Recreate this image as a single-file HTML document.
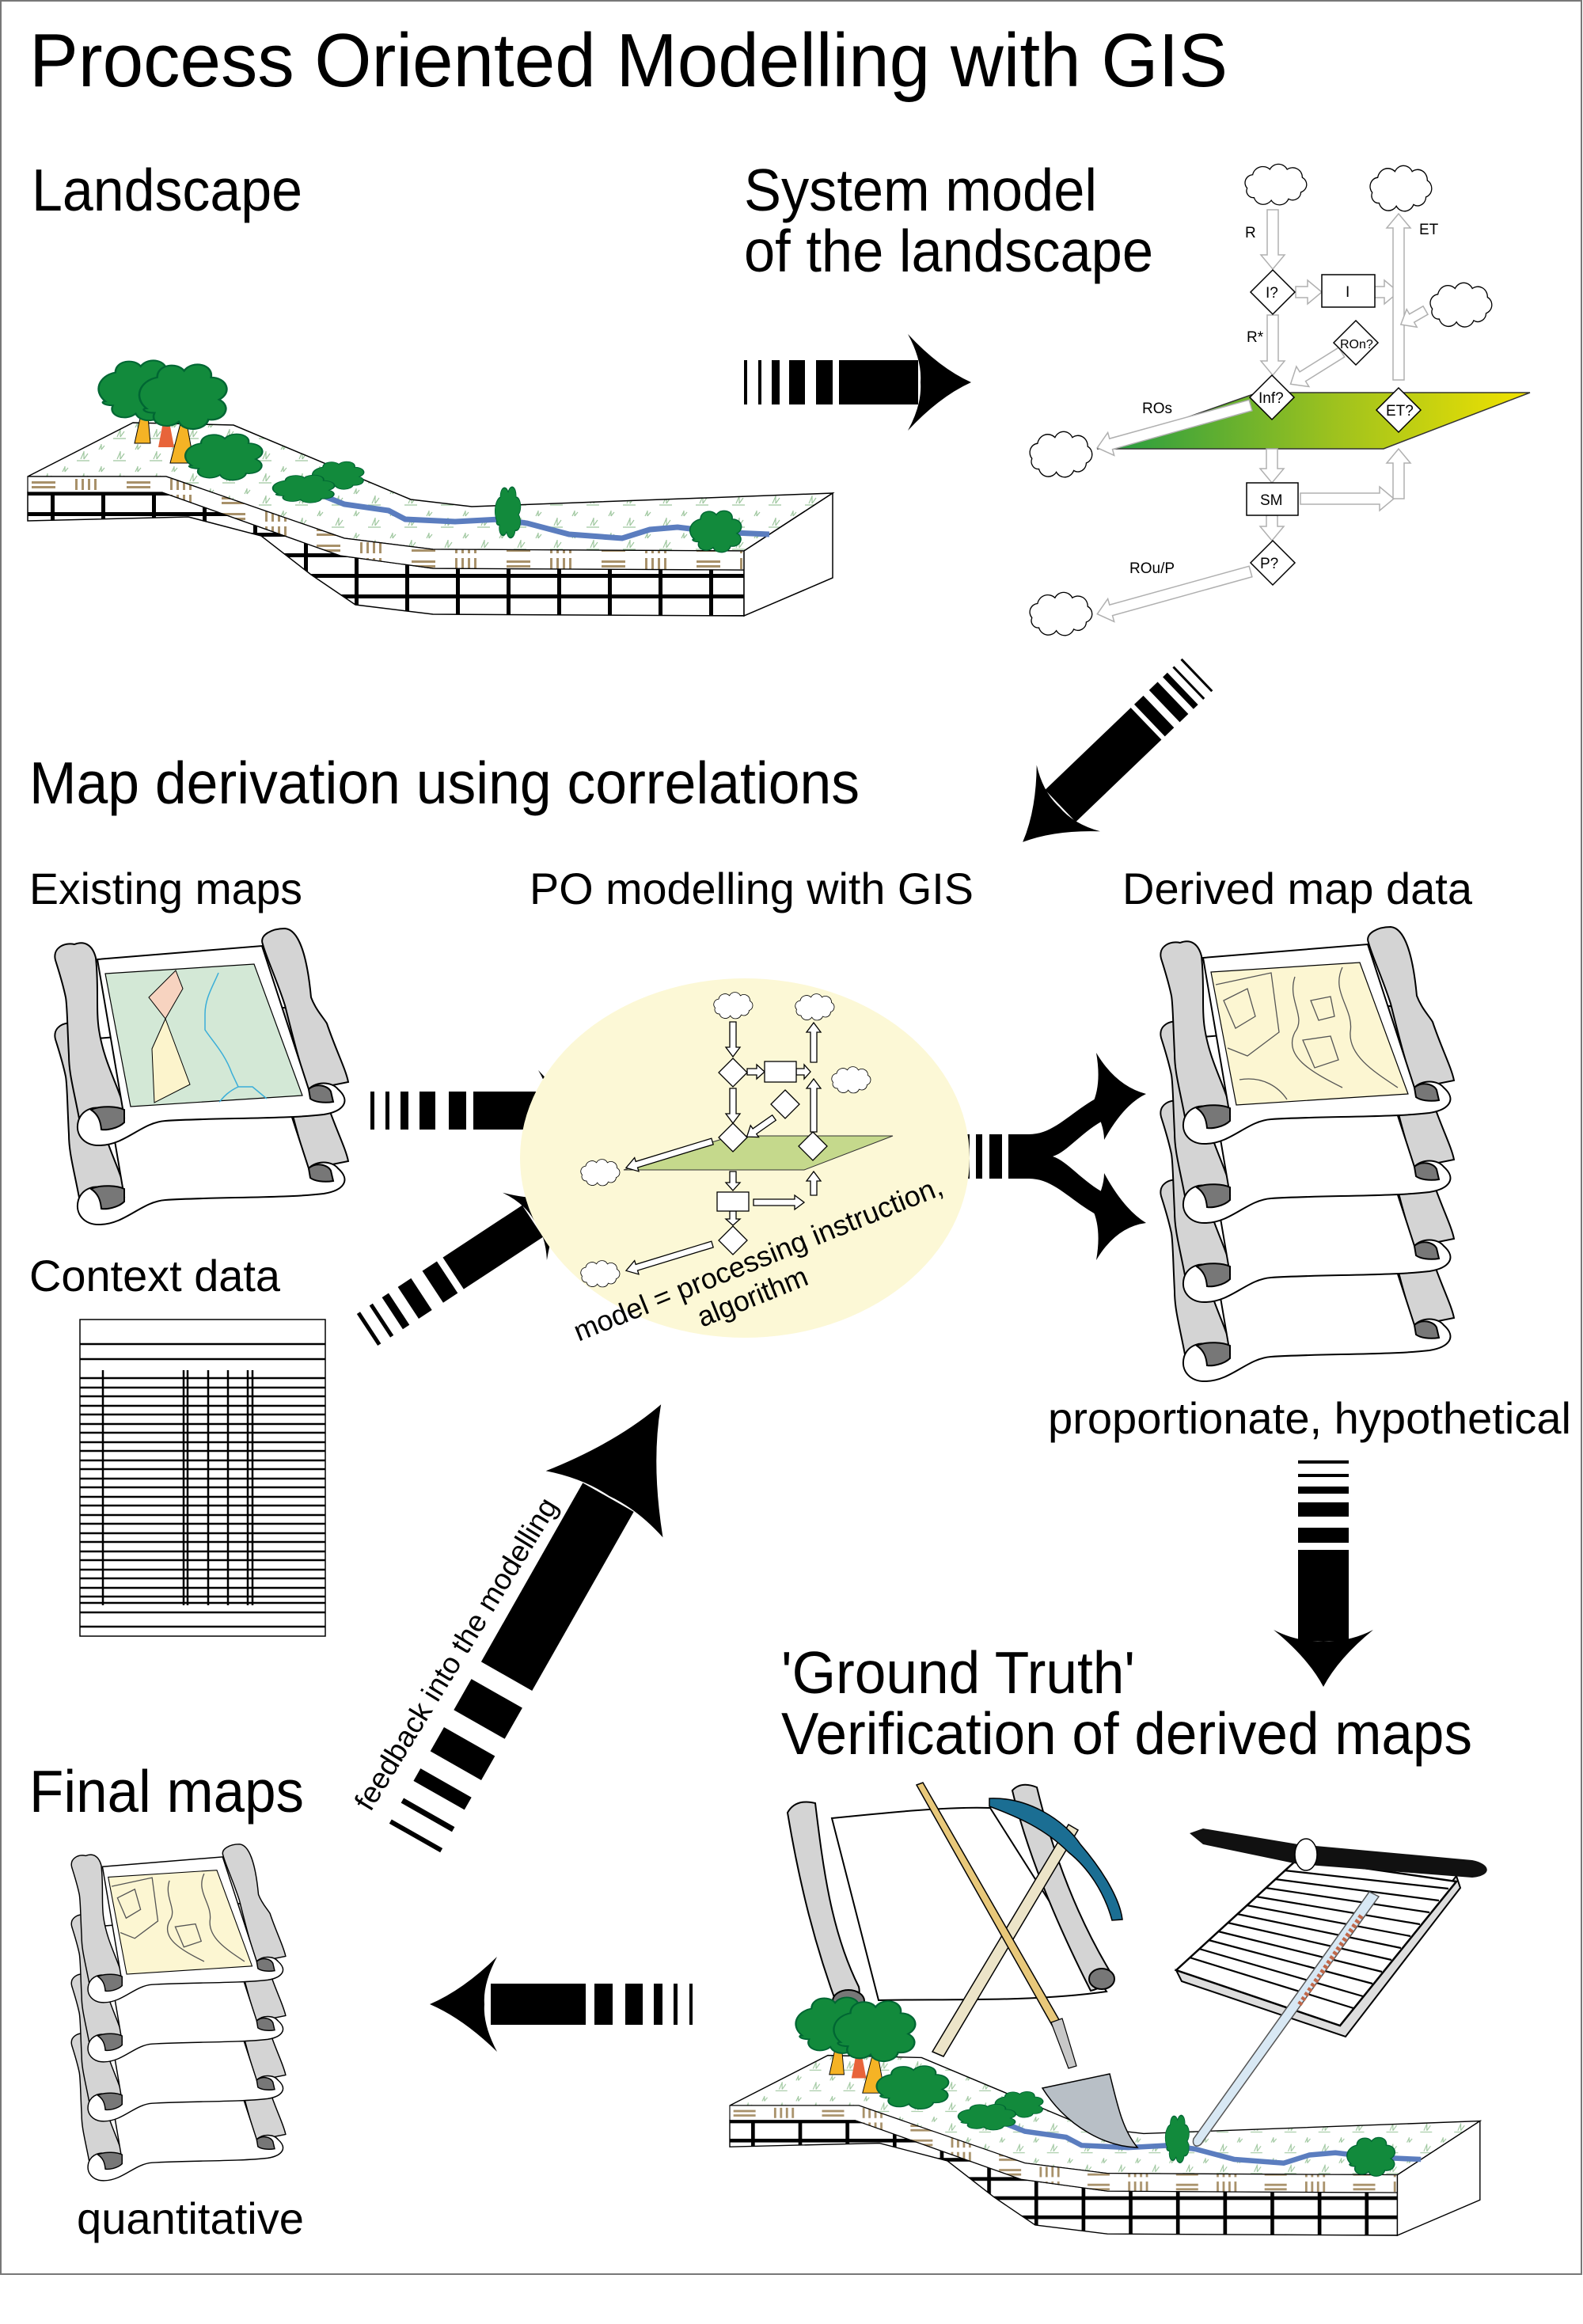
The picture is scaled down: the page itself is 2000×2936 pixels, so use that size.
<!DOCTYPE html>
<html><head><meta charset="utf-8"><style>
html,body{margin:0;padding:0;background:#fff;}
svg{display:block;}
text{font-family:"Liberation Sans",Arial,sans-serif;fill:#000;}
</style></head><body>
<svg width="2000" height="2936" viewBox="0 0 2000 2936" xmlns="http://www.w3.org/2000/svg">
<defs>
<pattern id="brick" patternUnits="userSpaceOnUse" width="64" height="26" x="0" y="621">
<rect width="64" height="26" fill="#fff"/><rect width="64" height="5" fill="#000"/><rect width="5" height="26" fill="#000"/>
</pattern>
<pattern id="soil" patternUnits="userSpaceOnUse" width="120" height="20" x="35" y="602">
<rect width="120" height="20" fill="#fff"/>
<rect x="5" y="6" width="30" height="3" fill="#a8916a"/><rect x="5" y="12" width="30" height="3" fill="#a8916a"/>
<rect x="60" y="3" width="3" height="14" fill="#a8916a"/><rect x="68" y="3" width="3" height="14" fill="#a8916a"/><rect x="76" y="3" width="3" height="14" fill="#a8916a"/><rect x="84" y="3" width="3" height="14" fill="#a8916a"/>
</pattern>
<pattern id="grass" patternUnits="userSpaceOnUse" width="46" height="28">
<rect width="46" height="28" fill="#fff"/>
<path d="M10,20 l4,-9 M14,20 l0,-10 M14,20 l5,-7 M5,22 h16 M33,8 l3,-6 M36,8 l0,-7 M36,8 l4,-5" stroke="#9fc79f" stroke-width="1.2" fill="none"/>
</pattern>
<linearGradient id="pg" x1="0" y1="0" x2="1" y2="0">
<stop offset="0" stop-color="#1f9a44"/><stop offset="0.55" stop-color="#9ec21e"/><stop offset="1" stop-color="#f2e200"/>
</linearGradient>
<path id="cloud" d="M10,35 a12,12 0 0 1 8,-20 a15,15 0 0 1 25,-8 a14,14 0 0 1 25,0 a14,14 0 0 1 22,12 a12,12 0 0 1 -2,22 a12,12 0 0 1 -18,10 a14,14 0 0 1 -25,2 a14,14 0 0 1 -25,-4 a10,10 0 0 1 -10,-14 Z" fill="#fff" stroke="#000" stroke-width="1.5"/>
<g id="tree">
<path d="M0,40 c-10,-10 -5,-25 8,-28 c0,-12 15,-14 20,-6 c6,-10 22,-6 20,6 c12,0 16,14 6,20 c10,6 4,20 -8,18 c-2,10 -18,12 -22,2 c-8,8 -22,2 -18,-8 c-8,0 -10,-4 -6,-4 Z" fill="#128a3c" stroke="#063" stroke-width="1.5"/>
</g>
<g id="land">
<polygon points="35,602 168,534 295,537 519,631 596,640 1052,623 940,696 547,694 435,680 210,602" fill="url(#grass)" stroke="#000" stroke-width="1.5"/>
<polygon points="35,622 205,622 430,702 547,718 940,720 940,778 547,776 449,764 393,726 330,677 238,653 35,658" fill="url(#brick)" stroke="#000" stroke-width="1.5"/>
<polygon points="35,602 210,602 435,680 547,694 940,696 940,720 547,718 430,702 205,622 35,622" fill="url(#soil)" stroke="#000" stroke-width="1.2"/>
<polygon points="940,696 1052,623 1052,730 940,778" fill="#fff" stroke="#000" stroke-width="1.5"/>
<polyline points="400,623 435,637 491,645 512,656 575,659 631,656 666,661 719,675 786,680 821,669 856,666 905,672 972,675" fill="none" stroke="#5b7dbf" stroke-width="7"/>
<polygon points="170,560 180,515 186,515 190,560" fill="#f5b325" stroke="#000" stroke-width="1"/>
<polygon points="200,565 207,528 213,528 220,565" fill="#e8643a"/>
<polygon points="215,585 228,535 236,535 245,585" fill="#f5b325" stroke="#000" stroke-width="1"/>
<use href="#tree" transform="translate(133,455) scale(1.6,1.3)"/>
<use href="#tree" transform="translate(185,460) scale(1.7,1.4)"/>
<use href="#tree" transform="translate(242,548) scale(1.5,1.0)"/>
<use href="#tree" transform="translate(400,583) scale(1.0,0.6)"/>
<use href="#tree" transform="translate(351,600) scale(1.2,0.6)"/>
<use href="#tree" transform="translate(628,615) scale(0.5,1.1)"/>
<use href="#tree" transform="translate(877,645) scale(1.0,0.9)"/>
</g>
<g id="scrollback" stroke="#000" stroke-width="2">
<path d="M263,17 C258,5 275,-3 291,-3 C305,-2 318,20 324,84 C330,100 340,110 344,117 C355,150 368,175 371,191 L321,201 C310,170 300,130 291,94 C280,60 268,35 263,17 Z" fill="#d4d4d4"/>
<path d="M1,37 C-3,22 12,14 25,17 C38,12 48,18 52,34 C56,70 52,100 56,125 C62,165 80,195 88,224 L31,237 C24,200 18,180 18,157 C16,120 16,95 14,84 C10,65 5,50 1,37 Z" fill="#d4d4d4"/>
<path d="M54,36 L262,19 L321,200 C330,190 350,190 358,200 C375,215 365,228 340,232 C290,238 200,236 140,240 C110,242 90,270 58,271 C38,272 25,258 30,240 C35,225 52,220 62,226 C72,230 80,236 88,236 Z" fill="#fff"/>
<path d="M46,226 C60,220 80,222 88,226 L88,242 C80,250 65,252 59,251 C58,240 55,232 46,226 Z" fill="#777"/>
<path d="M321,200 C330,192 345,195 349,203 L352,216 C340,218 328,216 323,212 Z" fill="#777"/>
</g>
<g id="scrolltop">
<use href="#scrollback"/>
</g>
</defs>

<rect x="1" y="1" width="1997" height="2872" fill="#fff" stroke="#777" stroke-width="2"/>

<!-- Titles -->
<text x="37" y="109" font-size="96" textLength="1514" lengthAdjust="spacingAndGlyphs">Process Oriented Modelling with GIS</text>
<text x="40" y="266" font-size="75" textLength="342" lengthAdjust="spacingAndGlyphs">Landscape</text>
<text x="940" y="266" font-size="75" textLength="446" lengthAdjust="spacingAndGlyphs">System model</text>
<text x="940" y="343" font-size="75" textLength="517" lengthAdjust="spacingAndGlyphs">of the landscape</text>
<text x="37" y="1015" font-size="75" textLength="1049" lengthAdjust="spacingAndGlyphs">Map derivation using correlations</text>
<text x="37" y="1142" font-size="56" textLength="345" lengthAdjust="spacingAndGlyphs">Existing maps</text>
<text x="669" y="1142" font-size="56" textLength="561" lengthAdjust="spacingAndGlyphs">PO modelling with GIS</text>
<text x="1418" y="1142" font-size="56" textLength="442" lengthAdjust="spacingAndGlyphs">Derived map data</text>
<text x="37" y="1631" font-size="56" textLength="317" lengthAdjust="spacingAndGlyphs">Context data</text>
<text x="1324" y="1811" font-size="56" textLength="661" lengthAdjust="spacingAndGlyphs">proportionate, hypothetical</text>
<text x="987" y="2139" font-size="75" textLength="447" lengthAdjust="spacingAndGlyphs">'Ground Truth'</text>
<text x="987" y="2216" font-size="75" textLength="873" lengthAdjust="spacingAndGlyphs">Verification of derived maps</text>
<text x="37" y="2289" font-size="75" textLength="347" lengthAdjust="spacingAndGlyphs">Final maps</text>
<text x="97" y="2822" font-size="56" textLength="287" lengthAdjust="spacingAndGlyphs">quantitative</text>

<!-- Landscape top -->
<use href="#land"/>

<!-- System model diagram -->
<g>
<polygon points="1386,567 1589,496 1933,496 1748,567" fill="url(#pg)" stroke="#333" stroke-width="1.5"/>
<g fill="#fff" stroke="#b0b0b0" stroke-width="1.5">
<path d="M0,-7 L57,-7 L57,-15 L75,0 L57,15 L57,7 L0,7 Z" transform="translate(1608,265) rotate(90)"/>
<path d="M0,-7 L58,-7 L58,-15 L76,0 L58,15 L58,7 L0,7 Z" transform="translate(1608,398) rotate(90)"/>
<path d="M0,-7 L15,-7 L15,-15 L33,0 L15,15 L15,7 L0,7 Z" transform="translate(1637,369)"/>
<path d="M0,-7 L12,-7 L12,-15 L30,0 L12,15 L12,7 L0,7 Z" transform="translate(1737,369)"/>
<path d="M0,-7 L192,-7 L192,-15 L210,0 L192,15 L192,7 L0,7 Z" transform="translate(1767,480) rotate(-90)"/>
<path d="M0,-7 L183,-7 L183,-15 L201,0 L183,15 L183,7 L0,7 Z" transform="translate(1580,512) rotate(164.5)"/>
<path d="M0,-7 L58,-7 L58,-15 L76,0 L58,15 L58,7 L0,7 Z" transform="translate(1695,445) rotate(148)"/>
<path d="M0,-6 L20,-6 L20,-13 L36,0 L20,13 L20,6 L0,6 Z" transform="translate(1801,392) rotate(150)"/>
<path d="M0,-7 L25,-7 L25,-15 L43,0 L25,15 L25,7 L0,7 Z" transform="translate(1607,567) rotate(90)"/>
<path d="M0,-7 L100,-7 L100,-15 L118,0 L100,15 L100,7 L0,7 Z" transform="translate(1643,630)"/>
<path d="M0,-7 L45,-7 L45,-15 L63,0 L45,15 L45,7 L0,7 Z" transform="translate(1767,630) rotate(-90)"/>
<path d="M0,-7 L14,-7 L14,-15 L32,0 L14,15 L14,7 L0,7 Z" transform="translate(1607,651) rotate(90)"/>
<path d="M0,-7 L183,-7 L183,-15 L201,0 L183,15 L183,7 L0,7 Z" transform="translate(1580,722) rotate(164.5)"/>
</g>
<g fill="#fff" stroke="#000" stroke-width="1.5">
<polygon points="1608,341 1636,369 1608,397 1580,369"/>
<polygon points="1607,474 1635,502 1607,530 1579,502"/>
<polygon points="1767,490 1795,518 1767,546 1739,518"/>
<polygon points="1713,405 1741,433 1713,461 1685,433"/>
<polygon points="1608,683 1636,711 1608,739 1580,711"/>
<rect x="1670" y="347" width="67" height="41"/>
<rect x="1575" y="610" width="65" height="41"/>
</g>
<use href="#cloud" transform="translate(1567,208) scale(0.87,0.85)"/>
<use href="#cloud" transform="translate(1725,210) scale(0.87,0.95)"/>
<use href="#cloud" transform="translate(1801,358) scale(0.87,0.92)"/>
<use href="#cloud" transform="translate(1295,546) scale(0.88,0.95)"/>
<use href="#cloud" transform="translate(1295,749) scale(0.88,0.9)"/>
<g font-size="19">
<text x="1599" y="376">I?</text><text x="1700" y="375">I</text>
<text x="1590" y="509">Inf?</text><text x="1751" y="525">ET?</text>
<text x="1693" y="440" font-size="16">ROn?</text><text x="1592" y="718">P?</text>
<text x="1592" y="638">SM</text>
<text x="1573" y="300">R</text><text x="1793" y="296">ET</text>
<text x="1575" y="432">R*</text><text x="1443" y="522">ROs</text><text x="1427" y="724">ROu/P</text>
</g>
</g>

<!-- Arrows -->
<g fill="#000">
<g transform="translate(940,483)">
<rect x="0" y="-28" width="4" height="56"/><rect x="18" y="-28" width="4" height="56"/><rect x="35" y="-28" width="10" height="56"/><rect x="57" y="-28" width="20" height="56"/><rect x="91" y="-28" width="21" height="56"/><rect x="120" y="-28" width="100" height="56"/>
<path d="M287,0 Q247,-18 207,-61 Q225,-28 223,0 Q225,28 207,61 Q247,18 287,0 Z"/>
</g>
<g transform="translate(1513,852) rotate(136.2)">
<rect x="0" y="-28" width="3" height="56"/><rect x="14" y="-28" width="3" height="56"/><rect x="26" y="-28" width="8" height="56"/><rect x="43" y="-28" width="15" height="56"/><rect x="68" y="-28" width="16" height="56"/><rect x="90" y="-28" width="150" height="56"/>
<path d="M306,0 Q266,-17 226,-58 Q244,-28 242,0 Q244,28 226,58 Q266,17 306,0 Z"/>
</g>
<g transform="translate(468,1403)">
<rect x="0" y="-24" width="5" height="48"/><rect x="19" y="-24" width="5" height="48"/><rect x="38" y="-24" width="10" height="48"/><rect x="62" y="-24" width="20" height="48"/><rect x="99" y="-24" width="22" height="48"/><rect x="130" y="-24" width="90" height="48"/>
<path d="M282,0 Q245,-15 212,-51 Q228,-24 226,0 Q228,24 212,51 Q245,15 282,0 Z"/>
</g>
<g transform="translate(464,1680) rotate(-33.3)">
<rect x="0" y="-24" width="5" height="48"/><rect x="19" y="-24" width="5" height="48"/><rect x="38" y="-24" width="10" height="48"/><rect x="62" y="-24" width="20" height="48"/><rect x="99" y="-24" width="22" height="48"/><rect x="130" y="-24" width="120" height="48"/>
<path d="M308,0 Q271,-15 238,-51 Q254,-24 252,0 Q254,24 238,51 Q271,15 308,0 Z"/>
</g>
<g transform="translate(1672,1845) rotate(90)">
<rect x="0" y="-32" width="4" height="64"/><rect x="17" y="-32" width="4" height="64"/><rect x="33" y="-32" width="9" height="64"/><rect x="53" y="-32" width="18" height="64"/><rect x="85" y="-32" width="19" height="64"/><rect x="113" y="-32" width="115" height="64"/>
<path d="M286,0 Q250,-19 214,-63 Q230,-32 228,0 Q230,32 214,63 Q250,19 286,0 Z"/>
</g>
<g transform="translate(524,2322) rotate(-60.4)">
<rect x="0" y="-37" width="6" height="74"/><rect x="30" y="-37" width="7" height="74"/><rect x="62" y="-37" width="18" height="74"/><rect x="105" y="-37" width="35" height="74"/><rect x="165" y="-37" width="45" height="74"/><rect x="235" y="-37" width="260" height="74"/>
<path d="M630,0 Q560,-25 485,-85 Q500,-40 497,0 Q500,40 485,85 Q560,25 630,0 Z"/>
</g>
<g transform="translate(875,2532) rotate(180)">
<rect x="0" y="-26" width="4" height="52"/><rect x="19" y="-26" width="5" height="52"/><rect x="38" y="-26" width="11" height="52"/><rect x="63" y="-26" width="22" height="52"/><rect x="101" y="-26" width="23" height="52"/><rect x="135" y="-26" width="120" height="52"/>
<path d="M332,0 Q290,-18 247,-60 Q265,-26 263,0 Q265,26 247,60 Q290,18 332,0 Z"/>
</g>
<g transform="translate(1208,1461)">
<rect x="0" y="-28" width="4" height="56"/><rect x="13" y="-28" width="4" height="56"/><rect x="25" y="-28" width="8" height="56"/><rect x="42" y="-28" width="16" height="56"/><rect x="66" y="-28" width="18" height="56"/>
</g>
<path d="M1290,1433 L1300,1433 C1335,1433 1355,1400 1400,1380 L1405,1410 C1370,1425 1350,1455 1330,1461 C1350,1467 1370,1497 1405,1512 L1400,1542 C1355,1522 1335,1489 1300,1489 L1290,1489 Z"/>
<path d="M1448,1382 Q1410,1372 1385,1330 Q1392,1370 1380,1395 Q1395,1420 1395,1440 Q1420,1395 1448,1382 Z"/>
<path d="M1448,1545 Q1420,1528 1395,1482 Q1395,1502 1380,1527 Q1392,1552 1385,1592 Q1410,1550 1448,1545 Z"/>
</g>

<!-- Existing maps scroll -->
<g transform="translate(69,1276)"><use href="#scrollback"/></g>
<g transform="translate(69,1176)">
<use href="#scrolltop"/>
<polygon points="64,54 252,42 313,208 96,222" fill="#d3e8d6" stroke="#000" stroke-width="1.2"/>
<polygon points="153,50 162,73 140,111 119,84" fill="#f7d3c0" stroke="#000" stroke-width="1"/>
<polygon points="140,111 171,194 126,217 123,149" fill="#fcf4cc" stroke="#000" stroke-width="1"/>
<path d="M207,53 C200,70 190,85 190,105 L190,125 C200,140 215,155 224,180 L232,197 L250,197 L268,212 M232,197 C215,205 210,215 208,216" fill="none" stroke="#3aaed8" stroke-width="1.5"/>
</g>

<!-- Context data table -->
<g stroke="#000" stroke-width="2.5">
<rect x="101" y="1667" width="310" height="400" fill="#fff" stroke-width="1.5"/>
<path d="M101,1698 H411 M101,1717 H411 M101,1741 H411 M101,1753 H411 M101,1764 H411 M101,1776 H411 M101,1787 H411 M101,1799 H411 M101,1810 H411 M101,1822 H411 M101,1833 H411 M101,1845 H411 M101,1856 H411 M101,1868 H411 M101,1879 H411 M101,1891 H411 M101,1902 H411 M101,1914 H411 M101,1925 H411 M101,1937 H411 M101,1948 H411 M101,1960 H411 M101,1971 H411 M101,1983 H411 M101,1994 H411 M101,2006 H411 M101,2017 H411 M101,2025 H411 M101,2037 H411 M101,2055 H411"/>
<path d="M130,1731 V2028 M232,1731 V2028 M237,1731 V2028 M263,1731 V2028 M288,1731 V2028 M313,1731 V2028 M319,1731 V2028"/>
</g>

<!-- Ellipse & mini model -->
<ellipse cx="941" cy="1463" rx="284" ry="227" fill="#fcf8d6"/>
<polygon points="788,1478 925,1435 1128,1435 1016,1478" fill="#c5d98c" stroke="#333" stroke-width="1"/>
<g fill="#fff" stroke="#000" stroke-width="1.3">
<path d="M0,-4 L32,-4 L32,-9 L44,0 L32,9 L32,4 L0,4 Z" transform="translate(926,1291) rotate(90)"/>
<path d="M0,-4 L32,-4 L32,-9 L44,0 L32,9 L32,4 L0,4 Z" transform="translate(926,1375) rotate(90)"/>
<path d="M0,-4 L38,-4 L38,-9 L50,0 L38,9 L38,4 L0,4 Z" transform="translate(1028,1342) rotate(-90)"/>
<path d="M0,-4 L55,-4 L55,-9 L67,0 L55,9 L55,4 L0,4 Z" transform="translate(1028,1430) rotate(-90)"/>
<path d="M0,-4 L30,-4 L30,-9 L42,0 L30,9 L30,4 L0,4 Z" transform="translate(978,1412) rotate(145)"/>
<path d="M0,-4 L100,-4 L100,-9 L114,0 L100,9 L100,4 L0,4 Z" transform="translate(900,1442) rotate(163)"/>
<path d="M0,-4 L14,-4 L14,-9 L24,0 L14,9 L14,4 L0,4 Z" transform="translate(926,1480) rotate(90)"/>
<path d="M0,-4 L52,-4 L52,-9 L64,0 L52,9 L52,4 L0,4 Z" transform="translate(952,1519)"/>
<path d="M0,-4 L18,-4 L18,-9 L30,0 L18,9 L18,4 L0,4 Z" transform="translate(1028,1510) rotate(-90)"/>
<path d="M0,-4 L100,-4 L100,-9 L114,0 L100,9 L100,4 L0,4 Z" transform="translate(900,1572) rotate(163)"/>
<path d="M0,-4 L12,-4 L12,-9 L22,0 L12,9 L12,4 L0,4 Z" transform="translate(944,1354)"/>
<path d="M0,-4 L10,-4 L10,-9 L18,0 L10,9 L10,4 L0,4 Z" transform="translate(1006,1354)"/>
<path d="M0,-4 L10,-4 L10,-9 L18,0 L10,9 L10,4 L0,4 Z" transform="translate(926,1530) rotate(90)"/>
<polygon points="926,1337 944,1355 926,1373 908,1355"/>
<polygon points="926,1419 944,1437 926,1455 908,1437"/>
<polygon points="992,1377 1010,1395 992,1413 974,1395"/>
<polygon points="1027,1430 1045,1448 1027,1466 1009,1448"/>
<polygon points="926,1549 944,1567 926,1585 908,1567"/>
<rect x="966" y="1341" width="40" height="26"/>
<rect x="906" y="1506" width="40" height="24"/>
</g>
<use href="#cloud" transform="translate(898,1254) scale(0.55,0.55)"/>
<use href="#cloud" transform="translate(1001,1256) scale(0.55,0.55)"/>
<use href="#cloud" transform="translate(1047,1348) scale(0.55,0.55)"/>
<use href="#cloud" transform="translate(730,1465) scale(0.55,0.55)"/>
<use href="#cloud" transform="translate(730,1593) scale(0.55,0.55)"/>
<text font-size="36" transform="translate(731,1695) rotate(-22)" textLength="499" lengthAdjust="spacingAndGlyphs">model = processing instruction,</text>
<text font-size="36" transform="translate(887,1677) rotate(-22)" textLength="147" lengthAdjust="spacingAndGlyphs">algorithm</text>

<!-- Derived map data stack -->
<g transform="translate(1466,1474)"><use href="#scrollback"/></g>
<g transform="translate(1466,1374)"><use href="#scrollback"/></g>
<g transform="translate(1466,1274)"><use href="#scrollback"/></g>
<g transform="translate(1466,1174)">
<use href="#scrolltop"/>
<polygon points="64,54 252,42 313,208 96,222" fill="#fcf6d2" stroke="#000" stroke-width="1.2"/>
<g fill="none" stroke="#555" stroke-width="1.3">
<path d="M80,90 L110,75 L120,110 L95,125 Z"/>
<path d="M70,70 L140,55 L150,130 L110,160 L85,150"/>
<path d="M170,60 C160,90 185,110 170,130 C155,160 190,180 230,200"/>
<path d="M190,90 L215,85 L220,110 L200,115 Z"/>
<path d="M180,140 L215,135 L225,165 L195,175 Z"/>
<path d="M230,48 C215,80 245,100 240,130 C238,160 270,180 300,200"/>
<path d="M100,190 C130,185 150,200 160,215"/>
</g>
</g>

<!-- Feedback label -->
<text font-size="37" transform="translate(468,2290) rotate(-58.5)" textLength="455" lengthAdjust="spacingAndGlyphs">feedback into the modelling</text>

<!-- Final maps stack -->
<g transform="translate(90,2557) scale(0.73)"><use href="#scrollback"/></g>
<g transform="translate(90,2482) scale(0.73)"><use href="#scrollback"/></g>
<g transform="translate(90,2407) scale(0.73)"><use href="#scrollback"/></g>
<g transform="translate(90,2332) scale(0.73)">
<use href="#scrolltop"/>
<polygon points="64,54 252,42 313,208 96,222" fill="#fcf6d2" stroke="#000" stroke-width="1.5"/>
<g fill="none" stroke="#555" stroke-width="1.8">
<path d="M80,90 L110,75 L120,110 L95,125 Z"/>
<path d="M70,70 L140,55 L150,130 L110,160 L85,150"/>
<path d="M170,60 C160,90 185,110 170,130 C155,160 190,180 230,200"/>
<path d="M180,140 L215,135 L225,165 L195,175 Z"/>
<path d="M230,48 C215,80 245,100 240,130 C238,160 270,180 300,200"/>
</g>
</g>

<!-- Ground truth scene -->
<g stroke="#000" stroke-width="2">
<path d="M1051,2297 C1120,2290 1200,2282 1251,2284 L1398,2516 C1300,2530 1180,2525 1110,2527 Z" fill="#fff"/>
<path d="M995,2290 Q1005,2272 1030,2278 C1040,2360 1050,2440 1085,2510 Q1090,2530 1060,2540 C1030,2460 1010,2380 995,2290 Z" fill="#d4d4d4"/>
<ellipse cx="1072" cy="2528" rx="20" ry="14" fill="#777"/>
<path d="M1279,2262 Q1290,2250 1310,2258 C1330,2340 1360,2420 1402,2490 Q1400,2510 1378,2515 C1340,2440 1300,2350 1279,2262 Z" fill="#d4d4d4"/>
<ellipse cx="1392" cy="2500" rx="16" ry="13" fill="#777"/>
</g>
<g transform="translate(922,2660) scale(0.932) translate(-35,-602)"><use href="#land"/></g>
<path d="M1178,2592 L1350,2305 L1362,2312 L1192,2598 Z" fill="#ece4c8" stroke="#000" stroke-width="1.5"/>
<path d="M1250,2272 C1300,2270 1345,2300 1365,2330 C1395,2365 1415,2400 1418,2425 L1405,2426 C1395,2390 1375,2360 1350,2340 C1320,2310 1285,2295 1250,2282 Z" fill="#1b6e93" stroke="#000" stroke-width="1.5"/>
<path d="M1158,2255 L1166,2252 L1340,2555 L1330,2560 Z" fill="#e8c87a" stroke="#000" stroke-width="1.5"/>
<path d="M1328,2555 L1342,2550 L1360,2610 L1350,2613 Z" fill="#c8c8c8" stroke="#000" stroke-width="1.2"/>
<path d="M1317,2638 L1402,2620 C1412,2660 1418,2690 1437,2713 C1400,2712 1350,2690 1317,2638 Z" fill="#b8bfc6" stroke="#000" stroke-width="1.5"/>
<polygon points="1493,2503 1700,2573 1845,2385 1840,2370 1693,2559 1486,2489" fill="#ddd" stroke="#000" stroke-width="2"/>
<polygon points="1486,2489 1640,2348 1840,2377 1693,2559" fill="#fff" stroke="#000" stroke-width="2.5"/>
<g stroke="#000" stroke-width="2.2">
<path d="M1503,2473 L1710,2537 M1515,2462 L1722,2522 M1527,2451 L1734,2506 M1539,2440 L1746,2491 M1551,2429 L1758,2476 M1563,2418 L1770,2461 M1575,2407 L1782,2446 M1587,2396 L1794,2431 M1599,2385 L1806,2416 M1611,2374 L1818,2401 M1623,2363 L1830,2386"/>
</g>
<path d="M1503,2316 L1520,2310 L1640,2330 L1860,2350 C1885,2355 1885,2370 1860,2372 L1640,2355 L1520,2330 Z" fill="#111"/>
<ellipse cx="1650" cy="2343" rx="14" ry="20" fill="#fff" stroke="#000" stroke-width="1.5"/>
<path d="M1730,2390 L1742,2396 L1520,2705 C1515,2715 1505,2712 1508,2702 Z" fill="#d8e8f4" stroke="#555" stroke-width="1.5"/>
<path d="M1720,2420 L1640,2535" stroke="#c0684a" stroke-width="6" stroke-dasharray="4,3"/>
</svg>
</body></html>
